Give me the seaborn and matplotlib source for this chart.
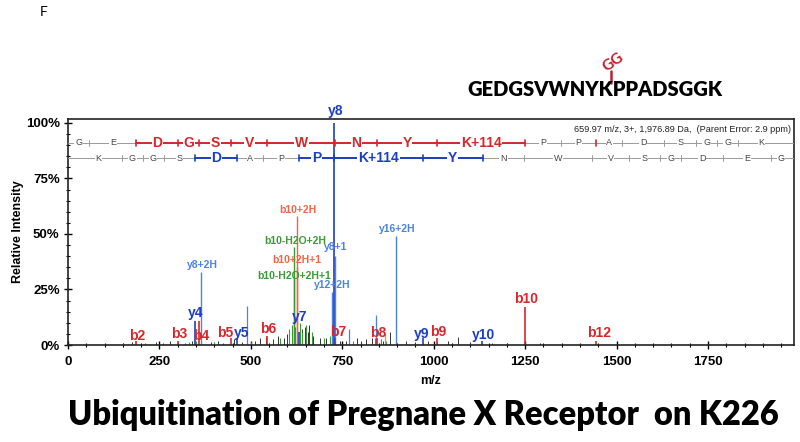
import numpy as np
import matplotlib
matplotlib.use("Agg")
import matplotlib.pyplot as plt
from matplotlib.ticker import MultipleLocator, FixedLocator
import seaborn as sns

# ---------------- data ----------------
peptide = "GEDGSVWNYKPPADSGGK"
title = "Ubiquitination of Pregnane X Receptor  on K226"
parent_info = "659.97 m/z, 3+, 1,976.89 Da,  (Parent Error: 2.9 ppm)"

# residues (K+114 = GG remnant) and residue masses
residues = ["G", "E", "D", "G", "S", "V", "W", "N", "Y", "K+114",
            "P", "P", "A", "D", "S", "G", "G", "K"]
res_mass = [57.02, 129.04, 115.03, 57.02, 87.03, 99.07, 186.08, 114.04, 163.06,
            242.14, 97.05, 97.05, 71.04, 115.03, 87.03, 57.02, 57.02, 128.09]
b_seen = [2, 3, 4, 5, 6, 7, 8, 9, 10, 12]
y_seen = [4, 5, 7, 8, 9, 10]

# main annotated ions
ion_names = ["b2", "b3", "b4", "b5", "b6", "b7", "b8", "b9", "b10", "b12",
             "y4", "y5", "y7", "y8", "y9", "y10"]
ion_mz = [187, 302, 359, 446, 545, 731, 845, 1008, 1250, 1444,
          348, 463, 631, 728, 970, 1133]
ion_int = [2, 2, 11, 3, 4, 3, 3, 3, 17, 2,
           11, 3, 6, 100, 3, 2]
ion_label_mz = [189, 304, 363, 430, 547, 738, 848, 1012, 1252, 1452,
                350, 476, 632, 731, 966, 1135]
ion_label_y = [4, 5, 4, 5.4, 7.2, 5.9, 5.4, 5.9, 20.7, 5.4,
               14.4, 5.4, 12.6, 105.4, 5, 4.5]

# smaller annotated ions (multiply charged / neutral loss / isotopes)
sub_names = ["y8+2H", "b10+2H", "b10-H2O+2H", "b10+2H+1", "b10-H2O+2H+1",
             "y8+1", "y12+2H", "y16+2H"]
sub_kind = ["y", "b", "loss", "b", "loss", "y", "y", "y"]
sub_mz = [365, 626, 617, 627, 618, 729, 721, 897]
sub_int = [33, 58, 44, 35, 30, 40, 24, 49]
sub_label_mz = [367, 629, 621, 626, 618, 733, 722, 900]
sub_label_y = [36, 60.8, 46.8, 38.3, 31.1, 44, 27, 52.3]

# other unassigned peaks
other_mz = [489, 842, 768, 867]
other_int = [17.6, 13.5, 7, 5]
other_kind = ["y", "y", "y", "tan"]

noise_mz = [150, 175, 210, 240, 260, 280, 320, 340, 390, 410, 425, 455, 475,
            510, 525, 540, 560, 575, 590, 600, 640, 648, 655, 660, 670, 690,
            705, 745, 760, 790, 800, 815, 830, 860, 880, 925, 950, 985, 1040,
            1065, 1100, 1160, 1200, 1290]
noise_int = [1, 1.5, 1, 1.5, 1, 2, 1, 2, 1.5, 2, 1, 2.5, 1.5,
             2, 3, 3.5, 2.5, 4, 3, 5, 7, 8, 6, 9, 4, 3,
             3, 2, 2, 3, 2, 2.5, 3, 2, 6, 2, 1.5, 2, 2,
             3.5, 1.5, 1, 1, 1]
green_mz = [330, 350, 400, 500, 580, 605, 612, 620, 633, 640, 650, 668, 700,
            715, 780, 840, 855, 870, 1010]
green_int = [1.5, 2, 1.5, 1.5, 3, 7, 9, 8, 10, 6, 9, 6, 3,
             4, 2, 3, 2.5, 2, 1.5]

# ---------------- style ----------------
RED = "#d8262b"
BLUE = "#1c3fc2"
LBLUE = "#4b82e6"
SALMON = "#f06449"
GREEN = "#3a9a33"
TAN = "#c8a070"
kind_col = {"b": SALMON, "y": LBLUE, "loss": GREEN, "tan": TAN}

sns.set_theme(style="ticks")
plt.rcParams["font.family"] = ["Liberation Sans", "DejaVu Sans"]
plt.rcParams["text.color"] = "black"
plt.rcParams["axes.labelcolor"] = "black"
plt.rcParams["xtick.color"] = "black"
plt.rcParams["ytick.color"] = "black"

fig = plt.figure(figsize=(8, 4.42), dpi=100)
ax = fig.add_axes([68 / 800, 1 - 345 / 442, (794 - 68) / 800, (345 - 119) / 442])
XMAX, YMAX = 1985, 101.8

# peaks
ax.vlines(noise_mz, 0, noise_int, color="#333333", lw=0.7)
ax.vlines(green_mz, 0, green_int, color=GREEN, lw=0.8)
ax.vlines(other_mz, 0, other_int, color=[kind_col[k] for k in other_kind], lw=0.9)
ax.vlines(sub_mz, 0, sub_int, color=[kind_col[k] for k in sub_kind], lw=1.0)
ion_col = [RED if n.startswith("b") else BLUE for n in ion_names]
ax.vlines(ion_mz, 0, ion_int, color=ion_col, lw=1.2)

for n, x, y, c in zip(ion_names, ion_label_mz, ion_label_y, ion_col):
    ax.text(x, y, n, color=c, fontsize=10, fontweight="bold",
            ha="center", va="center", clip_on=False)
for n, x, y, k in zip(sub_names, sub_label_mz, sub_label_y, sub_kind):
    ax.text(x, y, n, color=kind_col[k], fontsize=7.5, fontweight="bold",
            ha="center", va="center")

# sequence coverage rows
def draw_row(names, masses, start, seen, ypos, col):
    bounds = start + np.concatenate([[0], np.cumsum(masses)])
    ax.plot([0, XMAX], [ypos, ypos], color="#9a9a9a", lw=0.7, zorder=3)
    for k in seen:
        if k - 1 in seen:
            ax.plot([bounds[k - 1], bounds[k]], [ypos, ypos], color=col, lw=1.4, zorder=4)
    for k, bx in enumerate(bounds[1:-1], start=1):
        c, lw = (col, 1.2) if k in seen else ("#9a9a9a", 0.7)
        ax.plot([bx, bx], [ypos - 1.4, ypos + 1.4], color=c, lw=lw, zorder=4)
    for i, name in enumerate(names, start=1):
        xc = (bounds[i - 1] + bounds[i]) / 2
        covered = i in seen and (i - 1) in seen
        box = dict(facecolor="white", edgecolor="none", pad=0.6)
        if covered:
            ax.text(xc, ypos, name, color=col, fontsize=10, fontweight="bold",
                    ha="center", va="center", bbox=box, zorder=5)
        else:
            ax.text(xc, ypos, name, color="#444444", fontsize=6.5,
                    ha="center", va="center", bbox=box, zorder=5)

draw_row(residues, res_mass, 1.007, b_seen, 91.0, RED)
draw_row(residues[::-1], res_mass[::-1], 19.018, y_seen, 84.2, BLUE)

ax.text(0.996, 0.975, parent_info, transform=ax.transAxes, fontsize=6.6,
        ha="right", va="top", color="#222222", zorder=6,
        bbox=dict(facecolor="white", edgecolor="none", pad=0.5))

ax.set_xlim(0, XMAX)
ax.set_ylim(0, YMAX)
ax.xaxis.set_major_locator(FixedLocator([0, 250, 500, 750, 1000, 1250, 1500, 1750]))
ax.xaxis.set_minor_locator(MultipleLocator(50))
ax.yaxis.set_major_locator(FixedLocator([0, 25, 50, 75, 100]))
ax.yaxis.set_minor_locator(MultipleLocator(5))
ax.set_yticklabels(["0%", "25%", "50%", "75%", "100%"])
ax.tick_params(which="major", direction="inout", length=6, width=1, labelsize=9.5, pad=5)
ax.tick_params(axis="y", which="major", pad=3)
ax.tick_params(which="minor", direction="inout", length=3, width=0.8)
for lbl in ax.get_xticklabels() + ax.get_yticklabels():
    lbl.set_fontweight("bold")
for sp in ax.spines.values():
    sp.set_linewidth(1.2)
    sp.set_color("#222222")
ax.set_xlabel("m/z", fontsize=9, fontweight="bold", labelpad=5)
ax.set_ylabel("Relative Intensity", fontsize=9, fontweight="bold", labelpad=1)

# header / title
fig.text(40 / 800, 1 - 12 / 442, "F", fontsize=10, family="Lato", va="center")
fig.text(595 / 800, 1 - 89 / 442, peptide, fontsize=14.5, family="Lato",
         fontweight="heavy", ha="center", va="center")
fig.add_artist(plt.Line2D([611 / 800, 611 / 800], [1 - 83 / 442, 1 - 71 / 442],
                          color="#c0202a", lw=1.8))
fig.text(613 / 800, 1 - 62 / 442, "GG", fontsize=11, family="Lato", fontweight="bold",
         color="#c0202a", ha="center", va="center", rotation=35)
fig.text(423 / 800, 1 - 415 / 442, title, fontsize=23.5, family="Lato",
         fontweight="heavy", ha="center", va="center")

fig.savefig("out.png", dpi=100)
